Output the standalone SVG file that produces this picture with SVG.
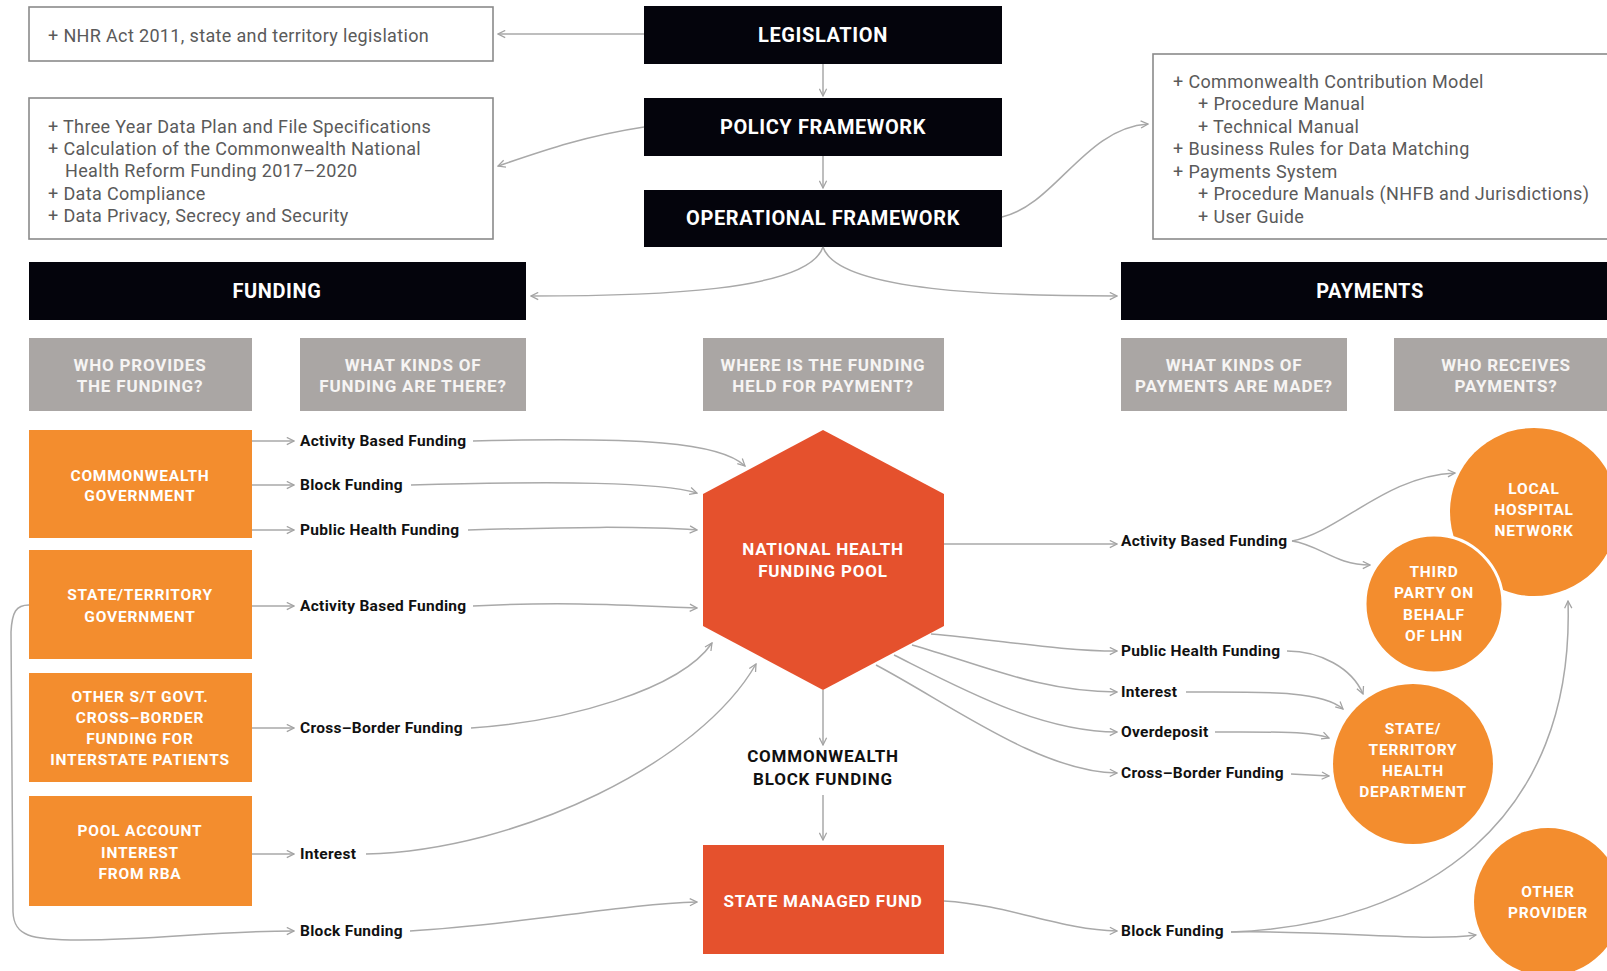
<svg xmlns="http://www.w3.org/2000/svg" width="1607" height="971" viewBox="0 0 1607 971">
  <defs>
    <style>
      .bg { fill: #ffffff; }
      .note { fill: #ffffff; stroke: #8a8a8a; stroke-width: 1.6; }
      .notetxt { font-family: Roboto, "Liberation Sans", sans-serif; font-size: 18px; letter-spacing: 0.35px; fill: #5a5a5a; dominant-baseline: central; }
      .blk { fill: #04040c; }
      .blktxt { font-family: Roboto, "Liberation Sans", sans-serif; font-weight: 700; font-size: 20px; fill: #ffffff; text-anchor: middle; dominant-baseline: central; letter-spacing: 0.6px; }
      .gray { fill: #aaa6a4; }
      .graytxt { font-family: Roboto, "Liberation Sans", sans-serif; font-weight: 700; font-size: 17px; fill: #f6f4f3; text-anchor: middle; dominant-baseline: central; letter-spacing: 0.8px; }
      .org { fill: #f38d2e; }
      .red { fill: #e5512d; }
      .wtxt { font-family: Roboto, "Liberation Sans", sans-serif; font-weight: 700; font-size: 15.5px; fill: #ffffff; text-anchor: middle; dominant-baseline: central; letter-spacing: 0.8px; }
      .rtxt { font-family: Roboto, "Liberation Sans", sans-serif; font-weight: 700; font-size: 17px; fill: #ffffff; text-anchor: middle; dominant-baseline: central; letter-spacing: 0.8px; }
      .lbl { font-family: Roboto, "Liberation Sans", sans-serif; font-weight: 700; font-size: 15.5px; letter-spacing: 0.3px; fill: #111111; dominant-baseline: central; }
      .ctxt { font-family: Roboto, "Liberation Sans", sans-serif; font-weight: 700; font-size: 17px; fill: #111111; text-anchor: middle; dominant-baseline: central; letter-spacing: 0.8px; }
      .conn path { fill: none; stroke: #a9a9a9; stroke-width: 1.5; marker-end: url(#arr); }
    </style>
    <marker id="arr" viewBox="0 0 10 10" refX="9" refY="5" markerWidth="9" markerHeight="9" markerUnits="userSpaceOnUse" orient="auto">
      <path d="M1,1 L9,5 L1,9" fill="none" stroke="#a3a3a3" stroke-width="1.4"/>
    </marker>
  </defs>

  <rect class="bg" x="0" y="0" width="1607" height="971"/>

  <!-- top notes -->
  <g id="legislation-notes">
    <rect class="note" x="29" y="7" width="464" height="54"/>
    <text class="notetxt" x="48" y="35">+ NHR Act 2011, state and territory legislation</text>
  </g>
  <g id="policy-notes">
    <rect class="note" x="29" y="98" width="464" height="141"/>
    <text class="notetxt" x="48" y="126">+ Three Year Data Plan and File Specifications</text>
    <text class="notetxt" x="48" y="148">+ Calculation of the Commonwealth National</text>
    <text class="notetxt" x="65" y="170">Health Reform Funding 2017–2020</text>
    <text class="notetxt" x="48" y="193">+ Data Compliance</text>
    <text class="notetxt" x="48" y="215">+ Data Privacy, Secrecy and Security</text>
  </g>
  <g id="operational-notes">
    <rect class="note" x="1153" y="54" width="470" height="185"/>
    <text class="notetxt" x="1173" y="81">+ Commonwealth Contribution Model</text>
    <text class="notetxt" x="1198" y="103">+ Procedure Manual</text>
    <text class="notetxt" x="1198" y="126">+ Technical Manual</text>
    <text class="notetxt" x="1173" y="148">+ Business Rules for Data Matching</text>
    <text class="notetxt" x="1173" y="171">+ Payments System</text>
    <text class="notetxt" x="1198" y="193">+ Procedure Manuals (NHFB and Jurisdictions)</text>
    <text class="notetxt" x="1198" y="216">+ User Guide</text>
  </g>

  <!-- framework stack -->
  <g id="legislation">
    <rect class="blk" x="644" y="6" width="358" height="58"/>
    <text class="blktxt" x="823" y="35">LEGISLATION</text>
  </g>
  <g id="policy-framework">
    <rect class="blk" x="644" y="98" width="358" height="58"/>
    <text class="blktxt" x="823" y="127">POLICY FRAMEWORK</text>
  </g>
  <g id="operational-framework">
    <rect class="blk" x="644" y="190" width="358" height="57"/>
    <text class="blktxt" x="823" y="218">OPERATIONAL FRAMEWORK</text>
  </g>

  <g id="funding">
    <rect class="blk" x="29" y="262" width="497" height="58"/>
    <text class="blktxt" x="277" y="291">FUNDING</text>
  </g>
  <g id="payments">
    <rect class="blk" x="1121" y="262" width="500" height="58"/>
    <text class="blktxt" x="1370" y="291">PAYMENTS</text>
  </g>

  <!-- column headings -->
  <g id="hdr-who-provides">
    <rect class="gray" x="29" y="338" width="223" height="73"/>
    <text class="graytxt" x="140" y="365">WHO PROVIDES</text>
    <text class="graytxt" x="140" y="386">THE FUNDING?</text>
  </g>
  <g id="hdr-funding-kinds">
    <rect class="gray" x="300" y="338" width="226" height="73"/>
    <text class="graytxt" x="413" y="365">WHAT KINDS OF</text>
    <text class="graytxt" x="413" y="386">FUNDING ARE THERE?</text>
  </g>
  <g id="hdr-where-held">
    <rect class="gray" x="703" y="338" width="241" height="73"/>
    <text class="graytxt" x="823" y="365">WHERE IS THE FUNDING</text>
    <text class="graytxt" x="823" y="386">HELD FOR PAYMENT?</text>
  </g>
  <g id="hdr-payment-kinds">
    <rect class="gray" x="1121" y="338" width="226" height="73"/>
    <text class="graytxt" x="1234" y="365">WHAT KINDS OF</text>
    <text class="graytxt" x="1234" y="386">PAYMENTS ARE MADE?</text>
  </g>
  <g id="hdr-who-receives">
    <rect class="gray" x="1394" y="338" width="230" height="73"/>
    <text class="graytxt" x="1506" y="365">WHO RECEIVES</text>
    <text class="graytxt" x="1506" y="386">PAYMENTS?</text>
  </g>

  <!-- funding providers -->
  <g id="commonwealth-government">
    <rect class="org" x="29" y="430" width="223" height="108"/>
    <text class="wtxt" x="140" y="476">COMMONWEALTH</text>
    <text class="wtxt" x="140" y="496">GOVERNMENT</text>
  </g>
  <g id="state-territory-government">
    <rect class="org" x="29" y="550" width="223" height="109"/>
    <text class="wtxt" x="140" y="595">STATE/TERRITORY</text>
    <text class="wtxt" x="140" y="617">GOVERNMENT</text>
  </g>
  <g id="other-st-govt">
    <rect class="org" x="29" y="673" width="223" height="109"/>
    <text class="wtxt" x="140" y="697">OTHER S/T GOVT.</text>
    <text class="wtxt" x="140" y="718">CROSS–BORDER</text>
    <text class="wtxt" x="140" y="739">FUNDING FOR</text>
    <text class="wtxt" x="140" y="760">INTERSTATE PATIENTS</text>
  </g>
  <g id="pool-account-interest">
    <rect class="org" x="29" y="796" width="223" height="110"/>
    <text class="wtxt" x="140" y="831">POOL ACCOUNT</text>
    <text class="wtxt" x="140" y="853">INTEREST</text>
    <text class="wtxt" x="140" y="874">FROM RBA</text>
  </g>

  <!-- funding type labels -->
  <g id="funding-labels">
    <text class="lbl" x="300" y="441">Activity Based Funding</text>
    <text class="lbl" x="300" y="485">Block Funding</text>
    <text class="lbl" x="300" y="530">Public Health Funding</text>
    <text class="lbl" x="300" y="606">Activity Based Funding</text>
    <text class="lbl" x="300" y="728">Cross–Border Funding</text>
    <text class="lbl" x="300" y="854">Interest</text>
    <text class="lbl" x="300" y="931">Block Funding</text>
  </g>

  <!-- pool and fund -->
  <g id="national-health-funding-pool">
    <polygon class="red" points="823,430 944,494 944,626 823,690 703,626 703,494"/>
    <text class="rtxt" x="823" y="549">NATIONAL HEALTH</text>
    <text class="rtxt" x="823" y="571">FUNDING POOL</text>
  </g>
  <g id="commonwealth-block-funding">
    <text class="ctxt" x="823" y="756">COMMONWEALTH</text>
    <text class="ctxt" x="823" y="779">BLOCK FUNDING</text>
  </g>
  <g id="state-managed-fund">
    <rect class="red" x="703" y="845" width="241" height="109"/>
    <text class="rtxt" x="823" y="901">STATE MANAGED FUND</text>
  </g>

  <!-- payment type labels -->
  <g id="payment-labels">
    <text class="lbl" x="1121" y="541">Activity Based Funding</text>
    <text class="lbl" x="1121" y="651">Public Health Funding</text>
    <text class="lbl" x="1121" y="692">Interest</text>
    <text class="lbl" x="1121" y="732">Overdeposit</text>
    <text class="lbl" x="1121" y="773">Cross–Border Funding</text>
    <text class="lbl" x="1121" y="931">Block Funding</text>
  </g>

  <!-- recipients -->
  <g id="local-hospital-network">
    <circle class="org" cx="1534" cy="512" r="84"/>
    <text class="wtxt" x="1534" y="489">LOCAL</text>
    <text class="wtxt" x="1534" y="510">HOSPITAL</text>
    <text class="wtxt" x="1534" y="531">NETWORK</text>
  </g>
  <g id="third-party">
    <circle class="org" cx="1434" cy="604" r="69" stroke="#ffffff" stroke-width="3"/>
    <text class="wtxt" x="1434" y="572">THIRD</text>
    <text class="wtxt" x="1434" y="593">PARTY ON</text>
    <text class="wtxt" x="1434" y="615">BEHALF</text>
    <text class="wtxt" x="1434" y="636">OF LHN</text>
  </g>
  <g id="state-territory-health-department">
    <circle class="org" cx="1413" cy="764" r="80"/>
    <text class="wtxt" x="1413" y="729">STATE/</text>
    <text class="wtxt" x="1413" y="750">TERRITORY</text>
    <text class="wtxt" x="1413" y="771">HEALTH</text>
    <text class="wtxt" x="1413" y="792">DEPARTMENT</text>
  </g>
  <g id="other-provider">
    <circle class="org" cx="1548" cy="902" r="74"/>
    <text class="wtxt" x="1548" y="892">OTHER</text>
    <text class="wtxt" x="1548" y="913">PROVIDER</text>
  </g>

  <!-- connectors -->
  <g id="connectors" class="conn">
    <path d="M644,34 L498,34"/>
    <path d="M823,64 L823,96"/>
    <path d="M823,156 L823,188"/>
    <path d="M644,127 C585,136 545,150 498,166"/>
    <path d="M1002,217 C1055,205 1085,128 1148,124"/>
    <path d="M823,247 C808,292 650,296 531,296"/>
    <path d="M823,247 C838,292 1000,296 1117,296"/>

    <path d="M252,441 L294,441"/>
    <path d="M252,485 L294,485"/>
    <path d="M252,530 L294,530"/>
    <path d="M252,606 L294,606"/>
    <path d="M252,728 L294,728"/>
    <path d="M252,854 L294,854"/>
    <path d="M29,605 C16,605 12,612 11,632 L13,912 C14,936 30,940 80,940 C160,940 210,931 294,931"/>

    <path d="M473,441 C640,437 720,442 745,466"/>
    <path d="M411,485 C560,481 660,482 697,493"/>
    <path d="M468,530 C570,527 640,526 697,530"/>
    <path d="M473,606 C570,601 640,606 697,608"/>
    <path d="M471,728 C565,722 680,690 712,643"/>
    <path d="M366,854 C520,850 700,762 756,664"/>
    <path d="M410,931 C520,925 620,904 697,902"/>

    <path d="M823,690 L823,745"/>
    <path d="M823,795 L823,840"/>

    <path d="M944,544 L1117,544"/>
    <path d="M931,634 C1000,640 1060,651 1117,651"/>
    <path d="M912,645 C980,664 1040,692 1117,692"/>
    <path d="M894,655 C960,688 1040,732 1117,732"/>
    <path d="M876,665 C950,704 1040,772 1117,773"/>
    <path d="M944,901 C1010,905 1060,930 1117,931"/>

    <path d="M1292,541 C1340,532 1385,476 1455,473"/>
    <path d="M1292,541 C1320,545 1335,565 1370,565"/>
    <path d="M1287,651 C1320,651 1352,668 1363,694"/>
    <path d="M1186,692 C1260,692 1322,690 1343,709"/>
    <path d="M1215,732 C1265,732 1310,731 1329,738"/>
    <path d="M1291,774 L1329,776"/>
    <path d="M1231,932 C1425,925 1575,820 1568,601"/>
    <path d="M1231,932 C1330,930 1420,942 1476,935"/>
  </g>
</svg>
